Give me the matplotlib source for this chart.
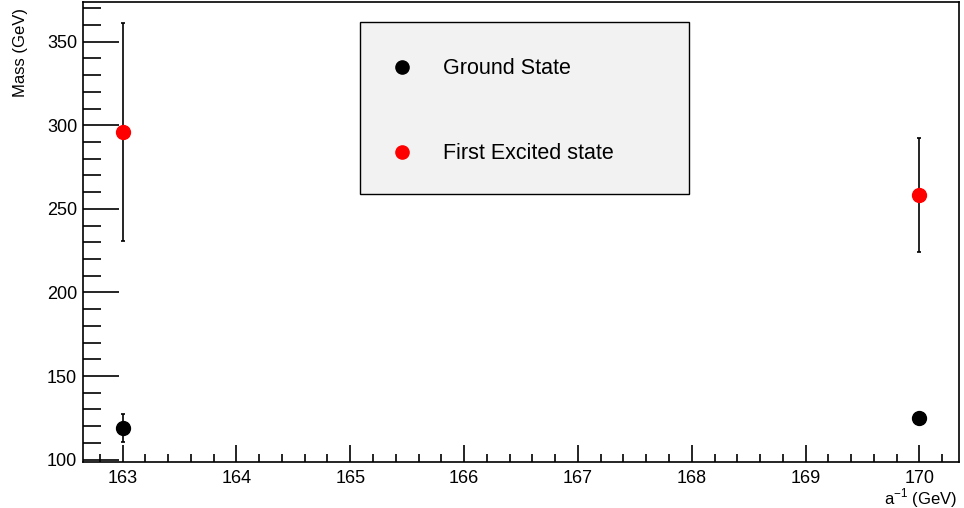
import matplotlib
matplotlib.use("Agg")
import matplotlib.pyplot as plt
from matplotlib.ticker import MultipleLocator
from matplotlib.patches import Rectangle

plt.rcParams['font.family'] = ['Liberation Sans', 'DejaVu Sans']

x_vals = [163, 170]
ground_mass = [119.0, 125.0]
ground_err = [8.5, 1.5]
excited_mass = [296.0, 258.3]
excited_err = [65.0, 34.0]
x_ticks = [163, 164, 165, 166, 167, 168, 169, 170]
y_ticks = [100, 150, 200, 250, 300, 350]
series_labels = ['Ground State', 'First Excited state']
series_colors = ['black', '#ff0000']

fig = plt.figure(figsize=(9.64, 5.08), dpi=100)
AX_L, AX_R, AX_T, AX_B = 82.7, 959.3, 2.0, 462.0
W, H = AX_R - AX_L, AX_B - AX_T
ax = fig.add_axes([AX_L/964, 1 - AX_B/508, W/964, H/508])

for ys, es, col, lab in zip([ground_mass, excited_mass], [ground_err, excited_err],
                            series_colors, series_labels):
    ax.errorbar(x_vals, ys, yerr=es, fmt='o', color=col,
                ecolor='black', elinewidth=1.2, capsize=1.5, capthick=1.2,
                markersize=10, label=lab, zorder=3)

ax.set_xlim(162.65, 170.35)
ax.set_ylim(98.6, 373.7)
ax.set_xticks(x_ticks)
ax.set_yticks(y_ticks)
ax.xaxis.set_minor_locator(MultipleLocator(0.2))
ax.yaxis.set_minor_locator(MultipleLocator(10))
ax.tick_params(axis='both', which='both', direction='in', top=False, right=False,
               labelsize=13, width=1.2)
ax.tick_params(axis='x', which='major', length=12, pad=6)
ax.tick_params(axis='x', which='minor', length=6)
ax.tick_params(axis='y', which='major', length=26, pad=4)
ax.tick_params(axis='y', which='minor', length=13)
for s in ax.spines.values():
    s.set_linewidth(1.2)

ax.set_ylabel('Mass (GeV)', fontsize=12)
ax.yaxis.set_label_coords(-(AX_L - 28)/W, 1 - (8 - AX_T)/H)
ax.yaxis.label.set_horizontalalignment('right')
ax.set_xlabel('a$^{\\mathregular{-1}}$ (GeV)', fontsize=12)
ax.xaxis.set_label_coords(0.998, -(486 - AX_B)/H)
ax.xaxis.label.set_horizontalalignment('right')

# legend box drawn manually (reference pixels: x 360-689, y 22-194)
def axx(px):
    return (px - AX_L) / W

def axy(py):
    return 1 - (py - AX_T) / H

lx0, lx1, ly0, ly1 = 360, 689, 22, 194
ax.add_patch(Rectangle((axx(lx0), axy(ly1)), axx(lx1) - axx(lx0), axy(ly0) - axy(ly1),
                       transform=ax.transAxes, facecolor='#f2f2f2', edgecolor='black',
                       linewidth=1.0, zorder=4, clip_on=False))
for py, col, lab in zip([66.5, 151.5], series_colors, series_labels):
    ax.plot([axx(401.7)], [axy(py)], 'o', color=col, markersize=9.5,
            transform=ax.transAxes, zorder=5, clip_on=False)
    ax.text(axx(443), axy(py + 7.5), lab, transform=ax.transAxes, fontsize=15.5,
            ha='left', va='baseline', zorder=5)

fig.savefig('out.png', dpi=100)
